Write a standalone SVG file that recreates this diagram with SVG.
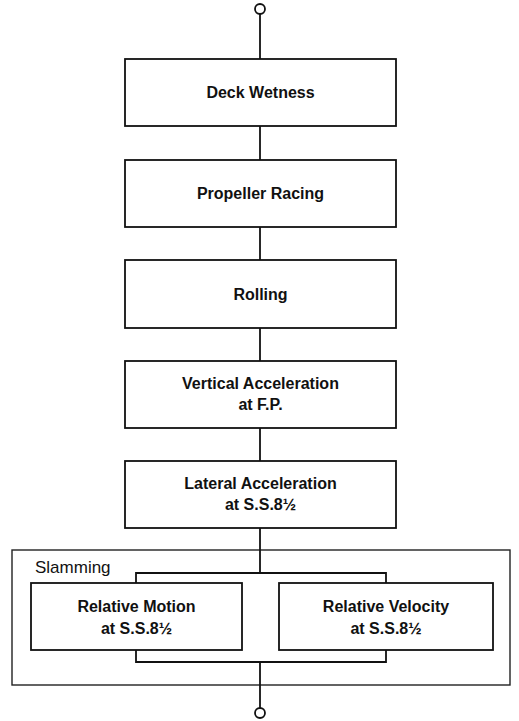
<svg xmlns="http://www.w3.org/2000/svg" width="519" height="721" viewBox="0 0 519 721">
<style>
.box{fill:#fff;stroke:#111;stroke-width:1.8}
.outer{fill:none;stroke:#222;stroke-width:1.4}
.ln{fill:none;stroke:#111;stroke-width:1.8}
.term{fill:#fff;stroke:#111;stroke-width:1.8}
text{font-family:"Liberation Sans",Arial,sans-serif;font-size:16px;font-weight:bold;fill:#111;text-anchor:middle}
.lbl{text-anchor:start;font-weight:normal;font-size:17px}
</style>
<rect width="519" height="721" fill="#fff"/>
<g id="slamming">
<rect class="outer" x="12" y="550" width="498" height="135"/>
<text class="lbl" x="35" y="573">Slamming</text>
</g>
<g id="connectors">
<line class="ln" x1="260" y1="14" x2="260" y2="59"/>
<line class="ln" x1="260" y1="126" x2="260" y2="160"/>
<line class="ln" x1="260" y1="227" x2="260" y2="260"/>
<line class="ln" x1="260" y1="328" x2="260" y2="361"/>
<line class="ln" x1="260" y1="428" x2="260" y2="461"/>
<line class="ln" x1="260" y1="528" x2="260" y2="573"/>
<polyline class="ln" points="136,583 136,573 386,573 386,583"/>
<polyline class="ln" points="136,650 136,662 386,662 386,650"/>
<line class="ln" x1="260" y1="662" x2="260" y2="708"/>
</g>
<g id="start"><circle class="term" cx="260" cy="9" r="5"/></g>
<g id="end"><circle class="term" cx="260" cy="713" r="5"/></g>
<g id="deck-wetness">
<rect class="box" x="125" y="59" width="271" height="67"/>
<text x="260.5" y="98">Deck Wetness</text>
</g>
<g id="propeller-racing">
<rect class="box" x="125" y="160" width="271" height="67"/>
<text x="260.5" y="199">Propeller Racing</text>
</g>
<g id="rolling">
<rect class="box" x="125" y="260" width="271" height="68"/>
<text x="260.5" y="300">Rolling</text>
</g>
<g id="vertical-acceleration">
<rect class="box" x="125" y="361" width="271" height="67"/>
<text x="260.5" y="389">Vertical Acceleration</text>
<text x="260.5" y="410">at F.P.</text>
</g>
<g id="lateral-acceleration">
<rect class="box" x="125" y="461" width="271" height="67"/>
<text x="260.5" y="489">Lateral Acceleration</text>
<text x="260.5" y="510">at S.S.8½</text>
</g>
<g id="relative-motion">
<rect class="box" x="31" y="583" width="211" height="67"/>
<text x="136.5" y="612">Relative Motion</text>
<text x="136.5" y="634">at S.S.8½</text>
</g>
<g id="relative-velocity">
<rect class="box" x="279" y="583" width="214" height="67"/>
<text x="386" y="612">Relative Velocity</text>
<text x="386" y="634">at S.S.8½</text>
</g>
</svg>
